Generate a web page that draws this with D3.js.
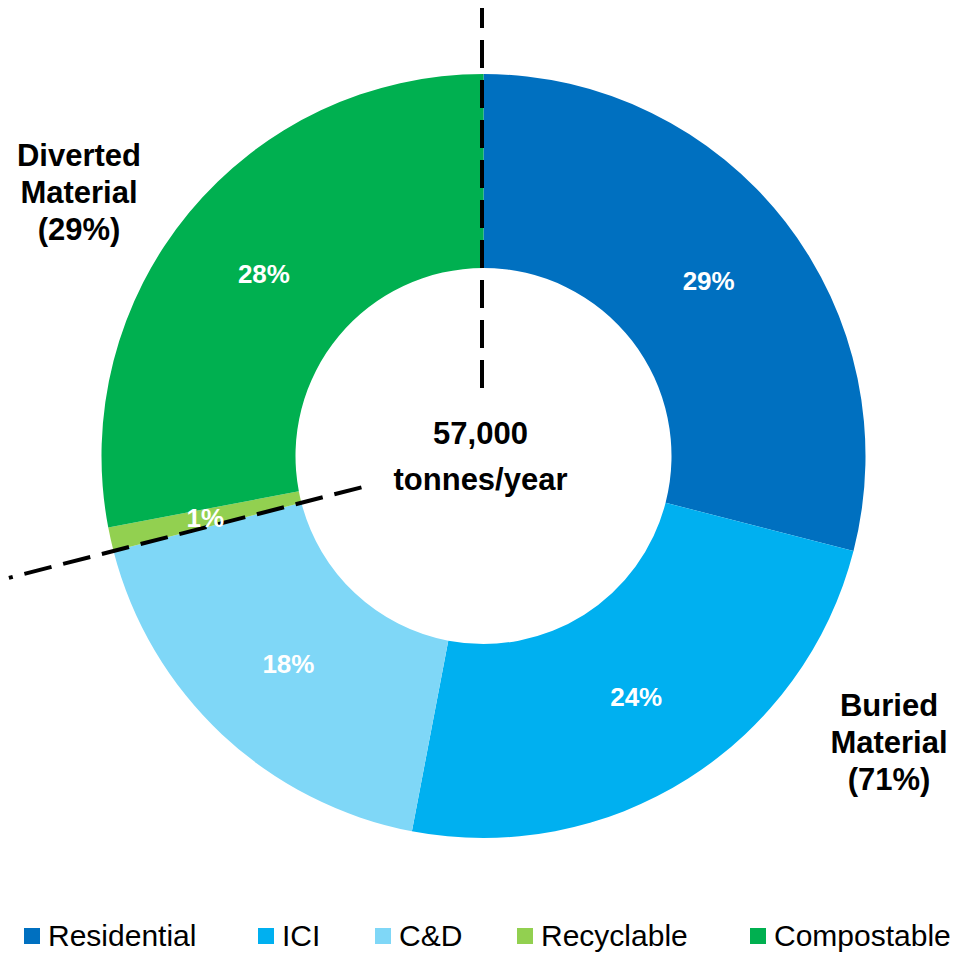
<!DOCTYPE html>
<html>
<head>
<meta charset="utf-8">
<script src="https://cdn.jsdelivr.net/npm/d3@7.9.0/dist/d3.min.js"></script>
<style>
  body { margin: 0; background: #fff; }
  svg { display: block; font-family: "Liberation Sans", Arial, sans-serif; }
</style>
</head>
<body>
<svg id="chart" width="964" height="954"></svg>
<script>
const categories = ["Residential", "ICI", "C&D", "Recyclable", "Compostable"];
const values = [29, 24, 18, 1, 28];
const colors = ["#0070C0", "#00B0F0", "#7FD7F7", "#92D050", "#00B050"];
const groupLabels = [
  { lines: ["Diverted", "Material", "(29%)"], x: 79, y: 166 },
  { lines: ["Buried", "Material", "(71%)"], x: 889, y: 716 }
];
const centerLines = ["57,000", "tonnes/year"];
const buriedShare = 71; // buried vs diverted split

const svg = d3.select("#chart");
const cx = 483.5, cy = 456;
const outerR = 382, innerR = 188;

const g = svg.append("g").attr("transform", `translate(${cx},${cy})`);

let data = categories.map((c, i) => ({ label: c, value: values[i] }));
let pie = d3.pie().value(d => d.value).sort(null);
let arcData = pie(data);
let arc = d3.arc().innerRadius(innerR).outerRadius(outerR);

g.selectAll("path.slice")
  .data(arcData)
  .enter()
  .append("path")
  .attr("class", "slice")
  .attr("d", arc)
  .attr("fill", (d, i) => colors[i]);

// dashed split lines
let total = d3.sum(values);
let splitAngles = [0, buriedShare / total * 2 * Math.PI];
let splitRadii = [[68, 448], [126, 490]];
splitAngles.forEach((a, i) => {
  let [r0, r1] = splitRadii[i];
  g.append("line")
    .attr("x1", Math.sin(a) * r0 - (i === 0 ? 1.5 : 0))
    .attr("y1", -Math.cos(a) * r0)
    .attr("x2", Math.sin(a) * r1 - (i === 0 ? 1.5 : 0))
    .attr("y2", -Math.cos(a) * r1)
    .attr("stroke", "#000")
    .attr("stroke-width", 4)
    .attr("stroke-dasharray", "28,12");
});

// percentage labels
g.selectAll("text.pct")
  .data(arcData)
  .enter()
  .append("text")
  .attr("class", "pct")
  .attr("x", d => arc.centroid(d)[0])
  .attr("y", d => arc.centroid(d)[1] + 9)
  .attr("text-anchor", "middle")
  .attr("fill", "#fff")
  .attr("font-weight", "bold")
  .attr("font-size", 26)
  .text(d => d.value + "%");

// center text
g.selectAll("text.center")
  .data(centerLines)
  .enter()
  .append("text")
  .attr("class", "center")
  .attr("x", -3)
  .attr("y", (d, i) => -12 + i * 46)
  .attr("text-anchor", "middle")
  .attr("font-weight", "bold")
  .attr("font-size", 31)
  .text(d => d);

// group labels
groupLabels.forEach(gl => {
  svg.append("text")
    .attr("text-anchor", "middle")
    .attr("font-weight", "bold")
    .attr("font-size", 31)
    .selectAll("tspan")
    .data(gl.lines)
    .enter()
    .append("tspan")
    .attr("x", gl.x)
    .attr("y", (d, i) => gl.y + i * 37)
    .text(d => d);
});

// legend
const legendX = [24, 258, 375, 517, 750];
let legend = svg.append("g").attr("transform", "translate(0,928)");
categories.forEach((c, i) => {
  let item = legend.append("g").attr("transform", `translate(${legendX[i]},0)`);
  item.append("rect").attr("width", 16).attr("height", 16).attr("fill", colors[i]);
  item.append("text")
    .attr("x", 24)
    .attr("y", 18)
    .attr("font-size", 30)
    .text(c);
});
</script>
</body>
</html>
